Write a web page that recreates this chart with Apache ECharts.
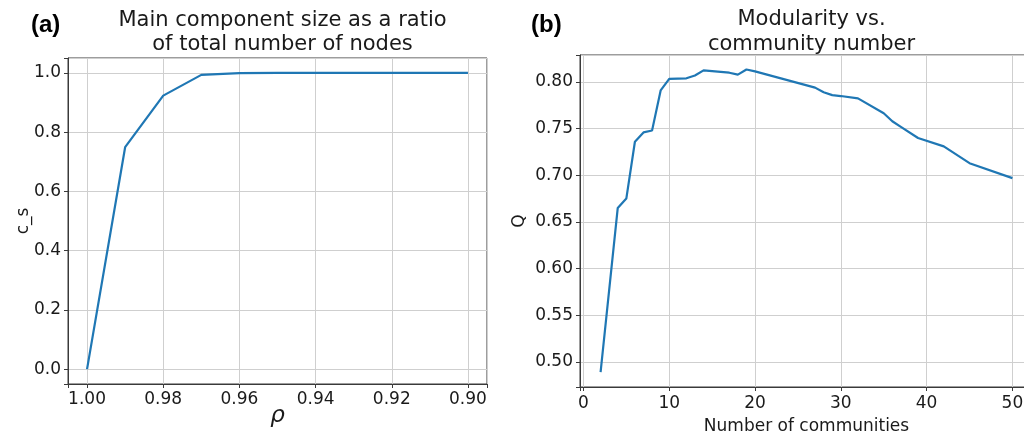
<!DOCTYPE html>
<html>
<head>
<meta charset="utf-8">
<script src="https://cdn.jsdelivr.net/npm/echarts@6/dist/echarts.min.js"></script>
<style>html,body{margin:0;padding:0;background:#fff}#c{width:1024px;height:437px}</style>
</head>
<body>
<div id="c"></div>
<script>
// Panel (a): main component size ratio vs rho
const rhoValues = [1.00, 0.99, 0.98, 0.97, 0.96, 0.95, 0.94, 0.93, 0.92, 0.91, 0.90];
const csValues  = [0.0, 0.749, 0.923, 0.993, 0.999, 1.0, 1.0, 1.0, 1.0, 1.0, 1.0];
// Panel (b): modularity vs community number
const communityCounts = [2, 4, 5, 6, 7, 8, 9, 10, 12, 13, 14, 17, 18, 19, 20, 27, 28, 29, 30, 32, 35, 36, 37, 39, 42, 45, 50];
const modularityQ     = [0.489, 0.665, 0.675, 0.736, 0.746, 0.748, 0.791, 0.8035, 0.804, 0.807, 0.8125, 0.810, 0.808, 0.8135, 0.8115, 0.794, 0.789, 0.786, 0.785, 0.7825, 0.7665, 0.758, 0.752, 0.740, 0.731, 0.713, 0.697];
const titles = ["Main component size as a ratio\nof total number of nodes", "Modularity vs.\ncommunity number"];
const panelLabels = ["(a)", "(b)"];
const axisNames = { ax: "\u03c1", ay: "c_s", bx: "Number of communities", by: "Q" };

const FONT = "DejaVu Sans";
const gridColor = "#cfcfcf";
const frameColor = "#3a3a3a";
const textColor = "#1a1a1a";

function multipleFmt(step, dec) {
  return function (v) {
    const r = v / step;
    return Math.abs(r - Math.round(r)) < 1e-6 ? v.toFixed(dec) : "";
  };
}
function valAxis(extra) {
  return Object.assign({
    type: "value",
    nameMoveOverlap: false,
    axisLine: { show: true, onZero: false, lineStyle: { color: frameColor, width: 1 } },
    axisTick: { show: true, length: 4, lineStyle: { color: frameColor } },
    splitLine: { show: true, lineStyle: { color: gridColor, width: 1 } },
    nameTextStyle: { color: textColor, fontFamily: FONT, fontSize: 17 },
    nameLocation: "middle"
  }, extra);
}

const chart = echarts.init(document.getElementById("c"), null, { renderer: "canvas" });
chart.setOption({
  animation: false,
  backgroundColor: "#ffffff",
  title: [
    { text: titles[0], left: 277.5, top: 4, textAlign: "center",
      textStyle: { fontFamily: FONT, fontSize: 21, fontWeight: "normal", color: textColor, lineHeight: 24 } },
    { text: titles[1], left: 806.5, top: 2, textAlign: "center",
      textStyle: { fontFamily: FONT, fontSize: 21, fontWeight: "normal", color: textColor, lineHeight: 25 } },
    { text: panelLabels[0], left: 26, top: 8,
      textStyle: { fontFamily: "Liberation Sans", fontSize: 24, fontWeight: "bold", color: "#000" } },
    { text: panelLabels[1], left: 526, top: 8,
      textStyle: { fontFamily: "Liberation Sans", fontSize: 24, fontWeight: "bold", color: "#000" } }
  ],
  grid: [
    { left: 68, width: 419, top: 58, height: 326, show: true, borderColor: frameColor, borderWidth: 1,
      outerBoundsMode: "none", containLabel: false },
    { left: 580, width: 453, top: 55, height: 332, show: true, borderColor: frameColor, borderWidth: 1,
      outerBoundsMode: "none", containLabel: false }
  ],
  xAxis: [
    valAxis({ gridIndex: 0, min: 0.895, max: 1.005, inverse: true, splitNumber: 5,
      axisLabel: { color: textColor, fontFamily: FONT, fontSize: 17, margin: 7, formatter: multipleFmt(0.02, 2) },
      name: axisNames.ax, nameGap: 21,
      nameTextStyle: { color: textColor, fontFamily: FONT, fontSize: 23, fontStyle: "italic" } }),
    valAxis({ gridIndex: 1, min: -0.4, max: 52.4, splitNumber: 5,
      axisLabel: { color: textColor, fontFamily: FONT, fontSize: 17, margin: 8, formatter: multipleFmt(10, 0) },
      name: axisNames.bx, nameGap: 31 })
  ],
  yAxis: [
    valAxis({ gridIndex: 0, min: -0.05, max: 1.05, splitNumber: 5,
      axisLabel: { color: textColor, fontFamily: FONT, fontSize: 17, margin: 7, formatter: multipleFmt(0.2, 1) },
      name: axisNames.ay, nameGap: 36 }),
    valAxis({ gridIndex: 1, min: 0.473, max: 0.829, splitNumber: 7,
      axisLabel: { color: textColor, fontFamily: FONT, fontSize: 17, margin: 7, formatter: multipleFmt(0.05, 2) },
      name: axisNames.by, nameGap: 52 })
  ],
  series: [
    { type: "line", xAxisIndex: 0, yAxisIndex: 0, data: rhoValues.map((x, i) => [x, csValues[i]]),
      showSymbol: false, lineStyle: { color: "#1f77b4", width: 2.2 }, itemStyle: { color: "#1f77b4" } },
    { type: "line", xAxisIndex: 1, yAxisIndex: 1, data: communityCounts.map((x, i) => [x, modularityQ[i]]),
      showSymbol: false, lineStyle: { color: "#1f77b4", width: 2.2 }, itemStyle: { color: "#1f77b4" } }
  ]
});
</script>
</body>
</html>
